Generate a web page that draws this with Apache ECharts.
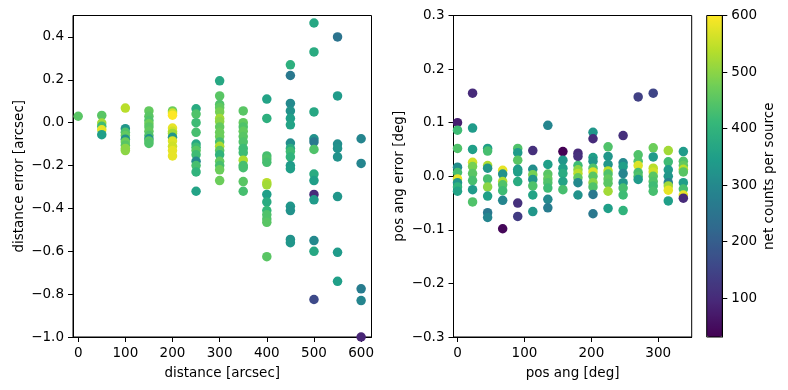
<!DOCTYPE html>
<html>
<head>
<meta charset="utf-8">
<script src="https://cdn.jsdelivr.net/npm/echarts@6/dist/echarts.min.js"></script>
<style>html,body{margin:0;padding:0;background:#fff;}#c{width:788px;height:390px;}</style>
</head>
<body>
<div id="c"></div>
<script>
// ---- data ----
const distCols = [0,50,100,150,200,250,300,350,400,450,500,550,600];
const distErr = [
 [0.03],
 [0.034,-0.002,-0.017,-0.033,-0.056],
 [0.068,-0.028,-0.045,-0.06,-0.077,-0.09,-0.105,-0.12,-0.13],
 [0.055,0.03,0.01,-0.005,-0.02,-0.04,-0.06,-0.075,-0.085,-0.097],
 [0.055,0.045,0.035,-0.025,-0.04,-0.05,-0.068,-0.085,-0.11,-0.13,-0.155],
 [0.065,0.04,0.0,-0.045,-0.1,-0.115,-0.13,-0.15,-0.18,-0.2,-0.23,-0.32],
 [0.195,0.125,0.085,0.07,0.05,0.02,0.005,-0.02,-0.045,-0.065,-0.09,-0.11,-0.13,-0.15,-0.18,-0.2,-0.22,-0.27],
 [0.055,0.0,-0.02,-0.04,-0.065,-0.09,-0.12,-0.14,-0.175,-0.2,-0.21,-0.275,-0.32],
 [0.11,0.02,-0.155,-0.17,-0.185,-0.28,-0.29,-0.335,-0.37,-0.41,-0.43,-0.45,-0.465,-0.625],
 [0.27,0.22,0.09,0.055,0.02,-0.01,-0.095,-0.12,-0.135,-0.16,-0.2,-0.215,-0.39,-0.41,-0.545,-0.56],
 [0.465,0.33,0.05,-0.075,-0.09,-0.125,-0.24,-0.27,-0.335,-0.36,-0.55,-0.6,-0.825],
 [0.4,0.125,-0.1,-0.12,-0.16,-0.345,-0.605,-0.74],
 [-0.075,-0.19,-0.775,-0.83,-1.0]
];
const distCounts = [
 [450],
 [450,520,420,580,350],
 [540,330,440,460,320,470,450,500,500],
 [460,450,440,470,450,460,440,320,450,440],
 [470,560,600,580,560,520,330,570,560,580,580],
 [380,440,420,430,370,420,450,420,300,430,400,360],
 [370,450,440,460,480,520,500,460,470,470,430,530,450,400,460,430,470,470],
 [450,460,440,460,450,440,420,420,530,430,430,450,430],
 [360,390,430,440,430,540,520,350,380,410,440,440,450,450],
 [390,260,300,320,350,360,310,380,420,400,340,350,330,320,320,330],
 [370,380,370,320,260,440,380,350,100,340,300,370,160],
 [250,340,310,320,320,330,340,350],
 [290,290,270,290,90]
];
const posCols = [0,22.5,45,67.5,90,112.5,135,157.5,180,202.5,225,247.5,270,292.5,315,337.5];
const posErr = [
 [0.1,0.086,0.052,0.017,0.007,-0.005,-0.012,-0.02,-0.028],
 [0.155,0.09,0.05,0.026,0.018,0.005,-0.008,-0.025,-0.048],
 [0.052,0.047,0.02,0.015,-0.005,-0.02,-0.037,-0.068,-0.077],
 [0.011,0.004,-0.01,-0.016,-0.027,-0.045,-0.098],
 [0.052,0.044,0.03,0.013,0.008,-0.01,-0.05,-0.075],
 [0.048,0.013,0.003,-0.006,-0.018,-0.035,-0.066],
 [0.095,0.022,0.004,-0.005,-0.012,-0.022,-0.043,-0.059],
 [0.046,0.03,0.015,0.005,-0.01,-0.025],
 [0.043,0.037,0.02,0.012,0.005,-0.003,-0.012,-0.035],
 [0.082,0.07,0.035,0.028,0.015,0.008,0.0,-0.012,-0.02,-0.034,-0.07],
 [0.055,0.037,0.022,0.01,0.004,-0.005,-0.013,-0.028,-0.06],
 [0.076,0.025,0.018,0.005,-0.012,-0.022,-0.035,-0.064],
 [0.148,0.04,0.028,0.02,0.007,0.0,-0.006],
 [0.155,0.053,0.036,0.015,0.008,0.0,-0.01,-0.018,-0.028],
 [0.048,0.027,0.012,0.0,-0.012,-0.018,-0.026,-0.046],
 [0.046,0.028,0.02,0.013,0.008,-0.012,-0.024,-0.035,-0.041]
];
const posCounts = [
 [80,420,440,310,430,580,330,400,360],
 [100,340,350,560,480,450,430,340,440],
 [350,430,530,330,430,500,350,260,290],
 [580,320,530,440,420,290,40],
 [440,340,450,340,350,380,110,130],
 [110,310,480,330,440,360,330],
 [290,350,450,460,440,420,300,270],
 [30,330,350,380,360,430],
 [100,110,420,500,540,460,300,320],
 [330,100,350,330,440,570,450,500,440,260,260],
 [440,330,330,540,440,460,450,520,350],
 [110,300,350,290,330,430,420,400],
 [140,440,440,570,430,440,340],
 [150,470,340,540,560,450,440,420,430],
 [520,420,340,330,280,520,580,350],
 [340,440,460,540,450,350,430,580,100]
];
const distTicks = [0,100,200,300,400,500,600];
const distErrTicks = [-1.0,-0.8,-0.6,-0.4,-0.2,0.0,0.2,0.4];
const posTicks = [0,100,200,300];
const posErrTicks = [-0.3,-0.2,-0.1,0.0,0.1,0.2,0.3];
const countTicks = [100,200,300,400,500,600];
const countRange = [31, 600];
const viridis = ['#440154','#482878','#3e4989','#31688e','#26828e','#1f9e89','#35b779','#6ece58','#b5de2b','#fde725'];

// ---- build ----
function build(cols, vals, counts){
  const out = [];
  cols.forEach((x,i)=>{ vals[i].forEach((v,j)=>{ out.push([x, v, counts[i][j]]); }); });
  return out;
}
const FONT = 'DejaVu Sans';
const fmt1 = v => (Math.abs(v) < 1e-9 ? '0.0' : v.toFixed(1).replace('-', '\u2212'));
function axis(o){
  const base = {
    type:'value',
    axisLine:{show:true, onZero:false, lineStyle:{color:'#000', width:1}},
    axisTick:{show:true, length:5, lineStyle:{color:'#000', width:1}},
    axisLabel:{color:'#000', fontFamily:FONT, fontSize:13.5, margin:9},
    splitLine:{show:false},
    nameLocation:'middle',
    nameTextStyle:{color:'#000', fontFamily:FONT, fontSize:13.5}
  };
  const r = Object.assign({}, base, o);
  r.axisTick = Object.assign({}, base.axisTick, o.axisTick||{});
  r.axisLabel = Object.assign({}, base.axisLabel, o.axisLabel||{});
  return r;
}
const chart = echarts.init(document.getElementById('c'), null, {renderer:'canvas'});
chart.setOption({
  animation:false,
  backgroundColor:'#fff',
  grid:[
    {left:73, top:15.5, width:298.5, height:321.5, show:true, borderColor:'#000', borderWidth:1},
    {left:453.5, top:15.5, width:238.2, height:321.5, show:true, borderColor:'#000', borderWidth:1},
    {left:706.7, top:15.5, width:15.6, height:321.5, show:true, borderColor:'#000', borderWidth:1, z:10}
  ],
  xAxis:[
    axis({gridIndex:0, min:-11, max:622, name:'distance [arcsec]', nameGap:29,
      axisTick:{customValues:distTicks}, axisLabel:{customValues:distTicks}}),
    axis({gridIndex:1, min:-6, max:350, name:'pos ang [deg]', nameGap:29,
      axisTick:{customValues:posTicks}, axisLabel:{customValues:posTicks}}),
    axis({gridIndex:2, min:0, max:1, show:false})
  ],
  yAxis:[
    axis({gridIndex:0, min:-1, max:0.5, name:'distance error [arcsec]', nameGap:47,
      axisTick:{customValues:distErrTicks}, axisLabel:{customValues:distErrTicks, formatter:fmt1}}),
    axis({gridIndex:1, min:-0.3, max:0.3, name:'pos ang error [deg]', nameGap:47,
      axisTick:{customValues:posErrTicks}, axisLabel:{customValues:posErrTicks, formatter:fmt1}}),
    axis({gridIndex:2, min:countRange[0], max:countRange[1], position:'right', name:'net counts per source', nameGap:40, nameRotate:90,
      axisTick:{customValues:countTicks}, axisLabel:{customValues:countTicks}, z:10})
  ],
  visualMap:{
    type:'continuous', min:countRange[0], max:countRange[1], dimension:2, seriesIndex:[0,1],
    inRange:{color:viridis}, calculable:false, realtime:false,
    left:706.7, top:15.5, itemWidth:15.6, itemHeight:321.5, padding:0, text:null, z:1,
    hoverLink:false
  },
  series:[
    {type:'scatter', xAxisIndex:0, yAxisIndex:0, symbolSize:9.5, data:build(distCols, distErr, distCounts), itemStyle:{opacity:1}},
    {type:'scatter', xAxisIndex:1, yAxisIndex:1, symbolSize:9.5, data:build(posCols, posErr, posCounts), itemStyle:{opacity:1}}
  ]
});
</script>
</body>
</html>
